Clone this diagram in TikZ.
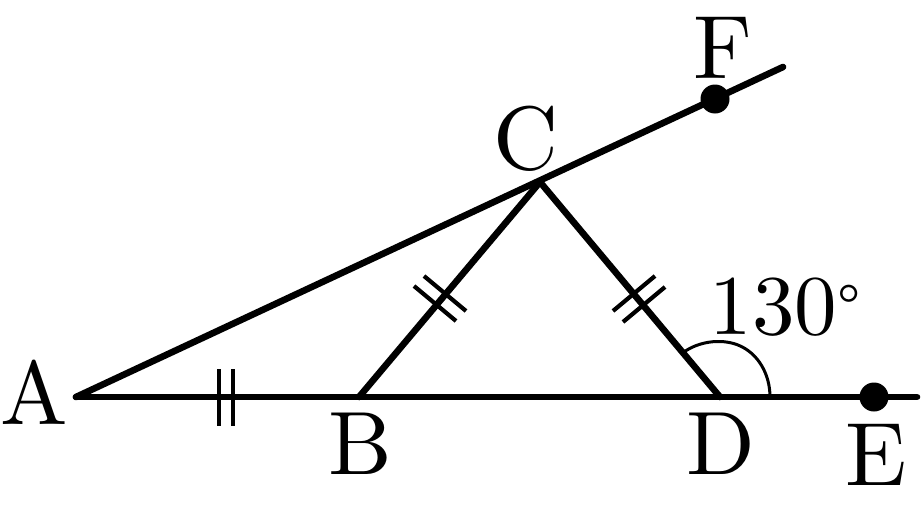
\documentclass[tikz,border=0pt]{standalone}
\usepackage{fontspec}
\setmainfont{lmroman10-regular}[Extension=.otf]
\begin{document}
\begin{tikzpicture}[x=1pt,y=-1pt,
 seg/.style={line width=6.6pt,line cap=round},
 tick/.style={line width=4.2pt},
 lbl/.style={inner sep=0pt,font=\fontsize{90}{90}\selectfont},
 dot/.style={circle,fill=black,inner sep=0pt,minimum size=29pt}]
\useasboundingbox (0,0) rectangle (921,514);
\coordinate (a) at (76,397);
\coordinate (b) at (359,397);
\coordinate (c) at (540,182);
\coordinate (d) at (720,397);
\coordinate (e2) at (917,397);
\coordinate (f2) at (783,67);
\node[dot] (e) at (874,397) {};
\node[dot] (f) at (715,99) {};
\draw[seg] (a) -- (e2);
\draw[seg] (a) -- (f2);
\draw[seg] (b) -- (c);
\draw[seg] (c) -- (d);
\draw[tick] (219,369) -- (219,426);
\draw[tick] (233,369) -- (233,426);
\draw[tick] (414,286) -- (456,321);
\draw[tick] (424,276) -- (466,311);
\draw[tick] (613,311) -- (655,276);
\draw[tick] (623,322) -- (665,287);
\draw[line width=3pt] (684,352) .. controls (698,342) and (720,338) .. (738,345) .. controls (758,353) and (770,374) .. (770,397);
\node[lbl] (A) at (34,392) {A};
\node[lbl] (B) at (360,444) {B};
\node[lbl] (C) at (526,139) {C};
\node[lbl] (D) at (721,444) {D};
\node[lbl] (E) at (876,455) {E};
\node[lbl] (F) at (723,48) {F};
\node[lbl,font=\fontsize{85}{85}\selectfont] (ang) at (785,307) {130\raisebox{7pt}{\fontsize{62}{62}\selectfont\textdegree}};
\end{tikzpicture}
\end{document}
